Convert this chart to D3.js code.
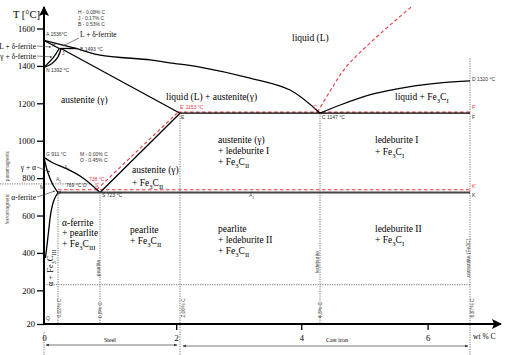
<!DOCTYPE html>
<html>
<head>
<meta charset="utf-8">
<script src="https://cdn.jsdelivr.net/npm/d3@7"></script>
<style>
body { margin: 0; background: #fff; }
svg { display: block; }
.serif { font-family: "Liberation Serif", "Times New Roman", serif; }
.small { font-family: "Liberation Sans", Arial, sans-serif; font-size: 5px; }
</style>
</head>
<body>
<div id="chart"></div>
<script>

// phase boundaries, [wt % C, T in °C]
var liquidusAB = [[0, 1536], [0.53, 1493]];
var liquidusBC = [[0.53, 1493], [0.8, 1458], [1.59, 1432], [1.9, 1416], [2.38, 1394], [3.18, 1335], [3.82, 1271], [4.3, 1147]];
var liquidusCD = [[4.3, 1147], [4.62, 1191], [5.14, 1250], [5.68, 1287], [6.2, 1309], [6.67, 1320]];
var solidusAH = [[0, 1536], [0.08, 1493]];
var peritecticHB = [[0.08, 1493], [0.53, 1493]];
var lineHN = [[0.08, 1493], [0.014, 1448], [0, 1392]];
var lineJN = [[0.17, 1493], [0.02, 1448], [0.011, 1411], [0, 1392]];
var solidusJE = [[0.17, 1493], [2.06, 1147]];
var eutecticEF = [[2.06, 1147], [6.67, 1147]];
var lineGS = [[0, 911], [0.013, 881], [0.305, 849], [0.6, 801], [0.8, 723]];
var lineGP = [[0, 911], [0.0057, 827], [0.0129, 763], [0.02, 723]];
var linePQ = [[0.02, 723], [0.0143, 683], [0.01, 619], [0.0071, 533], [0.0043, 442], [0.002, 373]];
var lineSE = [[0.8, 723], [2.06, 1147]];
var eutectoidPK = [[0.02, 723], [6.67, 723]];

// stable (graphite) system, red dashed
var graphiteSE = [[0.76, 738], [2.03, 1153]];
var graphite738 = [[0.02, 738], [6.67, 738]];
var graphite1153 = [[2.03, 1153], [6.67, 1153]];
var graphiteLiq = [[4.26, 1153], [4.46, 1266], [4.7, 1389], [5.14, 1538], [5.74, 1715]];

// dotted guides
var guideC = [0, 0.02, 0.8, 2.06, 4.3, 6.67];
var guideTop = [-25, 723, 723, 1147, 1147, 1440];
var guideBottom = [-160, 20, 20, -160, 20, -160];
var curieT = 769, curieEndC = 0.7;
var cementiteCurieT = 230;

var yTicks = [20, 200, 400, 600, 800, 1000, 1200, 1400, 1600];
var xTicks = [0, 2, 4, 6];

var svg = d3.select("#chart").append("svg")
    .attr("width", 512)
    .attr("height", 355);

var defs = svg.append("defs");
defs.append("marker").attr("id", "axisArrow")
    .attr("viewBox", "0 0 10 10").attr("refX", 9).attr("refY", 5)
    .attr("markerWidth", 5).attr("markerHeight", 5).attr("orient", "auto")
    .append("path").attr("d", "M0,0L10,5L0,10L2,5Z").attr("fill", "#000");
defs.append("marker").attr("id", "tinyArrow")
    .attr("viewBox", "0 0 10 10").attr("refX", 9).attr("refY", 5)
    .attr("markerWidth", 4).attr("markerHeight", 4).attr("orient", "auto-start-reverse")
    .append("path").attr("d", "M0,1L10,5L0,9Z").attr("fill", "#333");

// the diagram is drawn out of scale: the low carbon side is stretched
var x = d3.scaleLinear()
    .domain([0, 0.02, 0.17, 0.53, 0.8, 2.06, 4.3, 6.67])
    .range([44, 58, 61, 77, 100, 180, 320, 470]);
var y = d3.scaleLinear()
    .domain([20, 1600])
    .range([324, 28.5]);

var line = d3.line()
    .x(function(d) { return x(d[0]); })
    .y(function(d) { return y(d[1]); })
    .curve(d3.curveCatmullRom.alpha(0.5));

// text with _{...} subscripts
function richText(parent, str, px, py, size, opts) {
    opts = opts || {};
    var t = parent.append("text")
        .attr("class", opts.cls || "serif")
        .attr("font-size", size)
        .attr("fill", opts.color || "#000")
        .attr("text-anchor", opts.anchor || "start");
    if (opts.rotate) {
        t.attr("transform", "translate(" + px + "," + py + ") rotate(" + opts.rotate + ")");
    } else {
        t.attr("x", px).attr("y", py);
    }
    var parts = str.split(/_\{([^}]*)\}/);
    parts.forEach(function(p, i) {
        if (p === "") return;
        var s = t.append("tspan").text(p);
        if (i % 2 === 1) {
            s.attr("font-size", size * 0.7).attr("dy", size * 0.3);
        } else if (i > 0) {
            s.attr("dy", -size * 0.3);
        }
    });
    return t;
}

// dotted guides
var guides = svg.append("g")
    .attr("stroke", "#777").attr("stroke-width", 1)
    .attr("stroke-dasharray", "1.2,1.2").attr("fill", "none");
guideC.forEach(function(c, i) {
    guides.append("line")
        .attr("x1", x(c)).attr("x2", x(c))
        .attr("y1", y(guideTop[i])).attr("y2", y(guideBottom[i]));
});
guides.append("line")
    .attr("x1", x(0)).attr("x2", x(6.67))
    .attr("y1", y(cementiteCurieT)).attr("y2", y(cementiteCurieT));
guides.append("line")
    .attr("x1", 0).attr("x2", x(curieEndC))
    .attr("y1", y(curieT)).attr("y2", y(curieT));

// red dashed (Fe-C graphite)
var red = svg.append("g")
    .attr("stroke", "#e8383d").attr("stroke-width", 1.1)
    .attr("stroke-dasharray", "3.5,2.5").attr("fill", "none");
[graphite738, graphite1153, graphiteSE, graphiteLiq].forEach(function(d) {
    red.append("path").attr("d", line(d));
});

// black phase lines (Fe-Fe3C)
var phase = svg.append("g")
    .attr("stroke", "#000").attr("stroke-width", 1.3).attr("fill", "none");
[liquidusAB, liquidusBC, liquidusCD, solidusAH, peritecticHB, lineHN, lineJN,
 solidusJE, eutecticEF, lineGS, lineGP, linePQ, lineSE].forEach(function(d) {
    phase.append("path").attr("d", line(d));
});
phase.append("path").attr("d", line(eutectoidPK))
    .attr("stroke", "#444").attr("stroke-width", 1.8);

// axes
var yAxis = d3.axisLeft(y).tickValues(yTicks).tickSize(7).tickPadding(2)
    .tickFormat(d3.format("d"));
var yg = svg.append("g").attr("transform", "translate(" + x(0) + ",0)").call(yAxis)
    .attr("font-family", "Liberation Serif, serif").attr("font-size", 8.5);
yg.select(".domain").remove();
yg.selectAll(".tick line").attr("stroke-width", 1.3);

var xAxis = d3.axisBottom(x).tickValues(xTicks).tickSize(6).tickPadding(5)
    .tickFormat(d3.format("d"));
var xg = svg.append("g").attr("transform", "translate(0," + y(20) + ")").call(xAxis)
    .attr("font-family", "Liberation Serif, serif").attr("font-size", 8.5);
xg.select(".domain").remove();
xg.selectAll(".tick line").attr("stroke-width", 1.3)
    .filter(function(d) { return d === 0; }).remove();

svg.append("line")
    .attr("x1", x(0)).attr("x2", x(0)).attr("y1", y(20) + 1).attr("y2", 7)
    .attr("stroke", "#000").attr("stroke-width", 2).attr("marker-end", "url(#axisArrow)");
svg.append("line")
    .attr("x1", x(0) - 1).attr("x2", 501).attr("y1", y(20)).attr("y2", y(20))
    .attr("stroke", "#000").attr("stroke-width", 2).attr("marker-end", "url(#axisArrow)");

richText(svg, "T [°C]", 13, 18, 10.5);
richText(svg, "wt % C", 473, 339, 7.5);

// steel / cast iron ranges
var ranges = svg.append("g").attr("stroke", "#555").attr("stroke-width", 0.8);
ranges.append("line").attr("x1", x(0) + 2).attr("x2", x(2.06) - 3)
    .attr("y1", 345).attr("y2", 345)
    .attr("marker-start", "url(#tinyArrow)").attr("marker-end", "url(#tinyArrow)");
ranges.append("line").attr("x1", x(2.06) + 3).attr("x2", x(6.67) - 2)
    .attr("y1", 346).attr("y2", 346)
    .attr("marker-start", "url(#tinyArrow)").attr("marker-end", "url(#tinyArrow)");
richText(svg, "Steel", 110, 342, 6, { anchor: "middle" });
richText(svg, "Cast iron", 337, 342, 6, { anchor: "middle" });

// region labels
var regionLabels = [
    ["liquid (L)", 292, 41],
    ["austenite (γ)", 61, 103],
    ["liquid (L) + austenite(γ)", 166, 100],
    ["liquid + Fe_{3}C_{I}", 395, 100],
    ["austenite (γ)", 132, 173],
    ["+ Fe_{3}C_{II}", 132, 186],
    ["austenite (γ)", 218, 143],
    ["+ ledeburite I", 218, 154],
    ["+ Fe_{3}C_{II}", 218, 165],
    ["ledeburite I", 375, 143],
    ["+ Fe_{3}C_{I}", 375, 155],
    ["α-ferrite", 62, 226],
    ["+ pearlite", 62, 236],
    ["+ Fe_{3}C_{III}", 62, 247],
    ["pearlite", 130, 233],
    ["+ Fe_{3}C_{II}", 130, 244],
    ["pearlite", 218, 232],
    ["+ ledeburite II", 218, 243],
    ["+ Fe_{3}C_{II}", 218, 254],
    ["ledeburite II", 375, 232],
    ["+ Fe_{3}C_{I}", 375, 243]
];
regionLabels.forEach(function(l) { richText(svg, l[0], l[1], l[2], 9.5); });
richText(svg, "α + Fe_{3}C_{III}", 53, 268, 8.5, { anchor: "middle", rotate: -90 });

// side labels with leaders
var sideLabels = [
    ["L + δ-ferrite", 36, 49],
    ["γ + δ-ferrite", 36, 59],
    ["γ + α", 36, 170],
    ["α-ferrite", 36, 200]
];
sideLabels.forEach(function(l) { richText(svg, l[0], l[1], l[2], 7.5, { anchor: "end" }); });
richText(svg, "L + δ-ferrite", 80, 37, 7.5);
var leaders = svg.append("g").attr("stroke", "#333").attr("stroke-width", 0.6)
    .attr("marker-end", "url(#tinyArrow)");
[[37, 46, 51, 47], [37, 56, 52, 57], [37, 167, 50, 172], [37, 197, 55, 191], [79, 38, 63, 46]]
    .forEach(function(l) {
        leaders.append("line").attr("x1", l[0]).attr("y1", l[1]).attr("x2", l[2]).attr("y2", l[3]);
    });

// magnetic labels
richText(svg, "paramagnetic", 9, 166, 5, { cls: "small", anchor: "middle", rotate: -90, color: "#555" });
richText(svg, "ferromagnetic", 9, 209, 5, { cls: "small", anchor: "middle", rotate: -90, color: "#555" });

// guide labels (rotated)
var guideLabels = [
    ["0,02% C", 61, 308],
    ["pearlite", 100, 268],
    ["0,8% C", 102, 310],
    ["2,06% C", 185, 308],
    ["ledeburite", 319, 262],
    ["4,3% C", 322, 310],
    ["cementite (Fe3C)", 470, 258],
    ["6,67% C", 474, 308]
];
guideLabels.forEach(function(l) {
    richText(svg, l[0], l[1], l[2], 4.5, { cls: "small", anchor: "middle", rotate: -90, color: "#444" });
});

// point labels
var pointLabels = [
    ["H - 0.08% C", 78, 14, "#333"],
    ["J - 0.17% C", 78, 20, "#333"],
    ["B - 0.53% C", 78, 26, "#333"],
    ["A 1536°C", 46, 36, "#333"],
    ["H", 52, 47, "#333"],
    ["J", 62, 55, "#333"],
    ["B 1493 °C", 80, 51, "#333"],
    ["N 1392 °C", 46, 72, "#333"],
    ["G 911 °C", 46, 156, "#333"],
    ["M - 0.00% C", 80, 156, "#333"],
    ["O - 0.45% C", 80, 162, "#333"],
    ["A_{3}", 64, 169, "#555"],
    ["A_{2}", 56, 181, "#555"],
    ["769 °C  O", 66, 187, "#333"],
    ["M", 40, 189, "#333"],
    ["738 °C", 89, 181, "#e8383d"],
    ["S'", 95, 187, "#e8383d"],
    ["P", 58, 195, "#333"],
    ["S 723 °C", 102, 197, "#333"],
    ["A_{1}", 249, 197, "#555"],
    ["E' 1153 °C", 180, 109, "#e8383d"],
    ["E", 181, 119, "#333"],
    ["C'", 313, 109, "#e8383d"],
    ["C 1147 °C", 322, 119, "#333"],
    ["D 1320 °C", 472, 81, "#333"],
    ["F'", 472, 109, "#e8383d"],
    ["F", 472, 119, "#333"],
    ["K'", 472, 188, "#e8383d"],
    ["K", 472, 197, "#333"],
    ["Q", 46, 320, "#333"]
];
pointLabels.forEach(function(l) {
    richText(svg, l[0], l[1], l[2], 5, { cls: "small", color: l[3] });
});

</script>
</body>
</html>
